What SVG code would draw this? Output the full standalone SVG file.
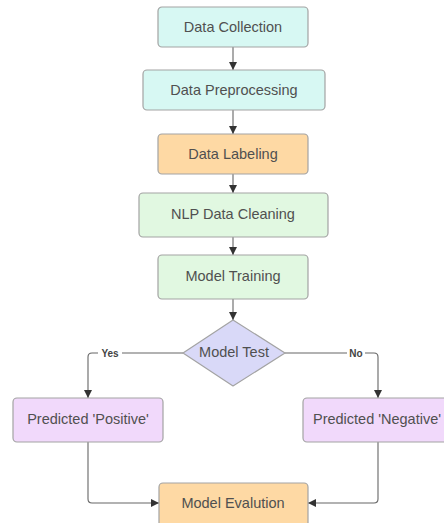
<svg xmlns="http://www.w3.org/2000/svg" width="444" height="523" viewBox="0 0 444 523">
<style>
.box{stroke:#a3a3a3;stroke-width:1.2}
.t{font-family:"Liberation Sans",Arial,sans-serif;font-size:14.5px;fill:#505050;text-anchor:middle;dominant-baseline:central}
.lbl{font-family:"Liberation Sans",Arial,sans-serif;font-size:10px;font-weight:bold;fill:#444;text-anchor:middle;dominant-baseline:central}
.c{fill:none;stroke:#666;stroke-width:1.1}
.cyan{fill:#d7f8f3}.orange{fill:#fed9a4}.green{fill:#e1f8e1}.lav{fill:#d9d9f8}.purple{fill:#f1d9fb}
</style>
<defs>
<marker id="ah" viewBox="0 0 10 10" refX="10" refY="5" markerWidth="8" markerHeight="8" markerUnits="userSpaceOnUse" orient="auto">
<path d="M0,0 L10,5 L0,10 z" fill="#333"/>
</marker>
</defs>
<rect width="444" height="523" fill="#fff"/>
<g id="connectors">
<path class="c" d="M233,47 V70" marker-end="url(#ah)"/>
<path class="c" d="M233,110 V134" marker-end="url(#ah)"/>
<path class="c" d="M233,174 V193" marker-end="url(#ah)"/>
<path class="c" d="M233,237 V255" marker-end="url(#ah)"/>
<path class="c" d="M233,299 V320" marker-end="url(#ah)"/>
<path class="c" d="M183,353 H92 Q88,353 88,357 V398" marker-end="url(#ah)"/>
<path class="c" d="M285,353 H374 Q378,353 378,357 V398" marker-end="url(#ah)"/>
<path class="c" d="M88,442 V499 Q88,503 92,503 H159" marker-end="url(#ah)"/>
<path class="c" d="M378,442 V499 Q378,503 374,503 H308" marker-end="url(#ah)"/>
<rect x="98" y="347" width="24" height="12" fill="#fff"/>
<text class="lbl" x="110" y="353">Yes</text>
<rect x="347" y="347" width="18" height="12" fill="#fff"/>
<text class="lbl" x="356" y="353">No</text>
</g>
<g id="data-collection"><rect class="box cyan" x="158" y="7" width="150" height="40" rx="4"/><text class="t" x="233" y="27">Data Collection</text></g>
<g id="data-preprocessing"><rect class="box cyan" x="143" y="70" width="182" height="40" rx="4"/><text class="t" x="234" y="90">Data Preprocessing</text></g>
<g id="data-labeling"><rect class="box orange" x="158" y="134" width="150" height="40" rx="4"/><text class="t" x="233" y="154">Data Labeling</text></g>
<g id="nlp-data-cleaning"><rect class="box green" x="139" y="193" width="189" height="44" rx="4"/><text class="t" x="233" y="214">NLP Data Cleaning</text></g>
<g id="model-training"><rect class="box green" x="158" y="255" width="150" height="44" rx="4"/><text class="t" x="233" y="276">Model Training</text></g>
<g id="model-test"><path class="box lav" d="M233,320 L285,353 L233,386 L183,353 Z" stroke-linejoin="round"/><text class="t" x="234" y="352">Model Test</text></g>
<g id="predicted-positive"><rect class="box purple" x="13" y="398" width="150" height="44" rx="4"/><text class="t" x="88" y="419">Predicted 'Positive'</text></g>
<g id="predicted-negative"><rect class="box purple" x="303" y="398" width="150" height="44" rx="4"/><text class="t" x="377" y="419">Predicted 'Negative'</text></g>
<g id="model-evalution"><rect class="box orange" x="159" y="483" width="149" height="44" rx="4"/><text class="t" x="233" y="503">Model Evalution</text></g>
</svg>
